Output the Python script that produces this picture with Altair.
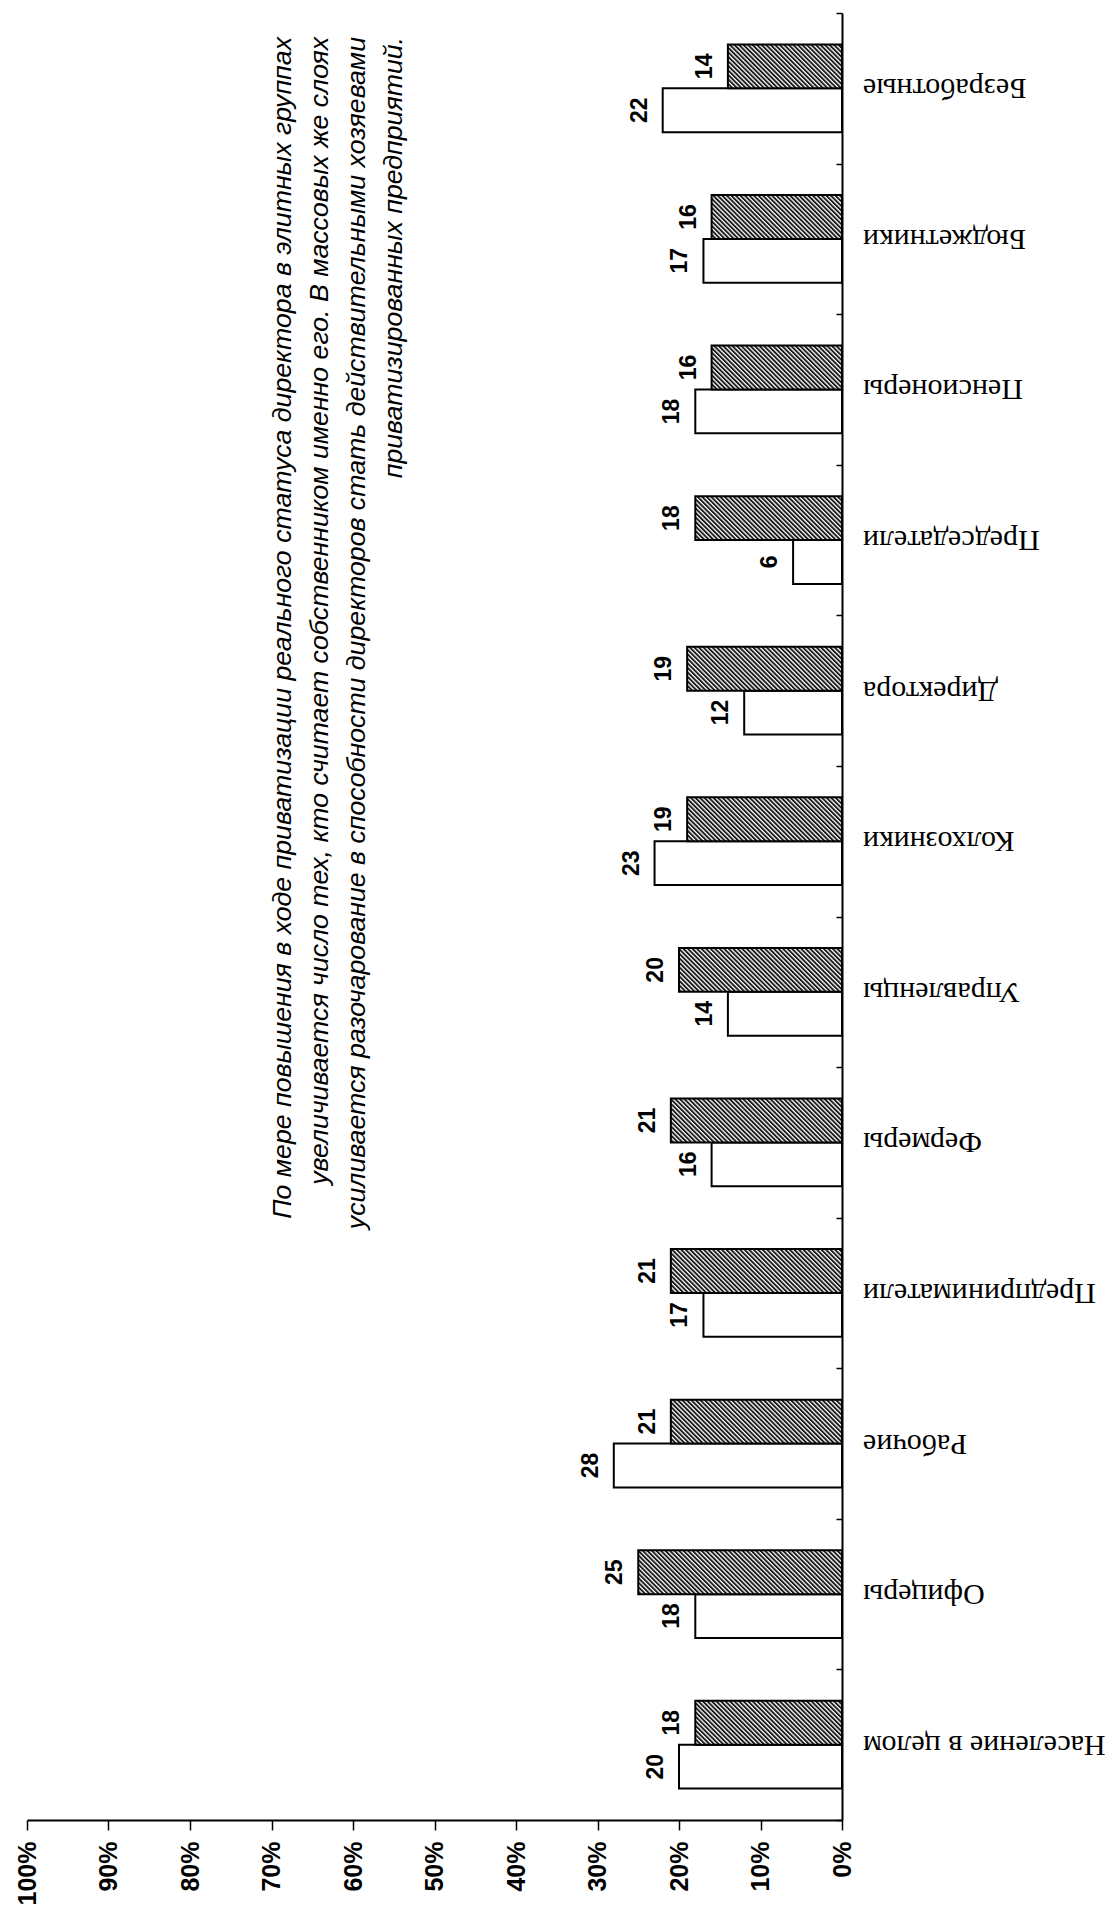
import altair as alt
import pandas as pd
import jinja2

# ---- data ----
categories = [
    "Население в целом", "Офицеры", "Рабочие", "Предприниматели", "Фермеры",
    "Управленцы", "Колхозники", "Директора", "Председатели", "Пенсионеры",
    "Бюджетники", "Безработные",
]
series = ["Светлые столбцы", "Заштрихованные столбцы"]
white_values = [20, 18, 28, 17, 16, 14, 23, 12, 6, 18, 17, 22]
hatched_values = [18, 25, 21, 21, 21, 20, 19, 19, 18, 16, 16, 14]
x_ticks = [0, 10, 20, 30, 40, 50, 60, 70, 80, 90, 100]
title_lines = [
    "По мере повышения в ходе приватизации реального статуса директора в элитных группах",
    "увеличивается число тех, кто считает собственником именно его. В массовых же слоях",
    "усиливается разочарование в способности директоров стать действительными хозяевами",
    "приватизированных предприятий.",
]

records = []
for cat, wv, hv in zip(categories, white_values, hatched_values):
    records.append({"group": cat, "series": series[0], "value": wv})
    records.append({"group": cat, "series": series[1], "value": hv})
bars_df = pd.DataFrame(records)
cats_df = pd.DataFrame({"group": categories})
note_df = pd.DataFrame({"k": [0]})

W, H = 815, 1807
top_to_bottom = categories[::-1]
offset_order = [series[1], series[0]]

y_scale = alt.Scale(domain=top_to_bottom, paddingInner=0, paddingOuter=0)
x_scale = alt.Scale(domain=[0, 100], reverse=True, nice=False)
off_scale = alt.Scale(domain=offset_order, paddingInner=0, paddingOuter=0.716)

x_axis = alt.Axis(
    values=x_ticks, labelExpr="datum.value + '%'", labelAngle=270,
    labelAlign="right", labelBaseline="middle", labelFontSize=25,
    labelFont="Liberation Sans", labelFontWeight="bold", labelColor="black",
    labelPadding=11, tickSize=10, tickWidth=1.5, tickColor="black",
    domainColor="black", domainWidth=2, grid=False, title=None,
    labelFlush=False, labelOverlap=False,
)
y_axis = alt.Axis(
    orient="left", offset=-W, labels=False, title=None, tickBand="extent",
    tickSize=6, tickWidth=1.5, tickColor="black", domainColor="black",
    domainWidth=2, grid=False,
)

base = alt.Chart(bars_df)

bars = base.mark_bar(stroke="black", strokeWidth=2).encode(
    y=alt.Y("group:N", scale=y_scale, axis=y_axis),
    x=alt.X("value:Q", scale=x_scale, axis=x_axis),
    yOffset=alt.YOffset("series:N", scale=off_scale),
    fill=alt.Fill("series:N", scale=alt.Scale(domain=series, range=["#ffffff", "url(#hatch)"]), legend=None),
)

values = base.mark_text(
    angle=270, align="center", baseline="alphabetic", dy=-16,
    font="Liberation Sans", fontSize=23, fontWeight="bold", color="black",
).encode(
    y=alt.Y("group:N", scale=y_scale),
    x=alt.X("value:Q", scale=x_scale),
    yOffset=alt.YOffset("series:N", scale=off_scale),
    text=alt.Text("value:Q"),
)

cat_labels = alt.Chart(cats_df).mark_text(
    angle=180, align="right", baseline="middle",
    font="Liberation Serif", fontSize=30, color="black",
).encode(
    y=alt.Y("group:N", scale=y_scale),
    x=alt.value(W + 21),
    text=alt.Text("group:N"),
)

note = alt.Chart(note_df).mark_text(
    text=title_lines, angle=270, align="right", baseline="top",
    font="Liberation Sans", fontStyle="italic", fontSize=26.7, lineHeight=37,
    color="black",
).encode(x=alt.value(243), y=alt.value(24))

chart = alt.layer(bars, values, cat_labels, note).properties(
    width=W, height=H,
    autosize=alt.AutoSizeParams(type="none"),
    padding={"left": 19, "top": 5, "right": 268, "bottom": 88},
).configure_view(stroke=None)

HATCH_TEMPLATE = jinja2.Template("""<!DOCTYPE html>
<html>
<head>
  <style>
    html, body { overflow: hidden; }
    #{{ output_div }}.vega-embed { width: 100%; display: flex; }
  </style>
  <script type="text/javascript" src="{{ base_url }}/vega@{{ vega_version }}"></script>
  <script type="text/javascript" src="{{ base_url }}/vega-lite@{{ vegalite_version }}"></script>
  <script type="text/javascript" src="{{ base_url }}/vega-embed@{{ vegaembed_version }}"></script>
</head>
<body>
  <svg width="0" height="0" style="position:absolute">
    <defs>
      <pattern id="hatch" patternUnits="userSpaceOnUse" width="3.2" height="3.2" patternTransform="rotate(-45)">
        <rect x="0" y="0" width="3.2" height="3.2" fill="#ffffff"></rect>
        <rect x="0" y="0" width="1.9" height="3.2" fill="#1a1a1a"></rect>
      </pattern>
    </defs>
  </svg>
  <div id="{{ output_div }}"></div>
  <script>
    (function(vegaEmbed) {
      var spec = {{ spec }};
      var embedOpt = {{ embed_options }};
      const el = document.getElementById('{{ output_div }}');
      vegaEmbed("#{{ output_div }}", spec, embedOpt).catch(function(error) {
        el.innerHTML = '<div style="color:red;">JavaScript Error: ' + error.message + '</div>';
        throw error;
      });
    })(vegaEmbed);
  </script>
</body>
</html>""")

chart.save("out.html", embed_options={"renderer": "svg", "actions": False}, template=HATCH_TEMPLATE)
